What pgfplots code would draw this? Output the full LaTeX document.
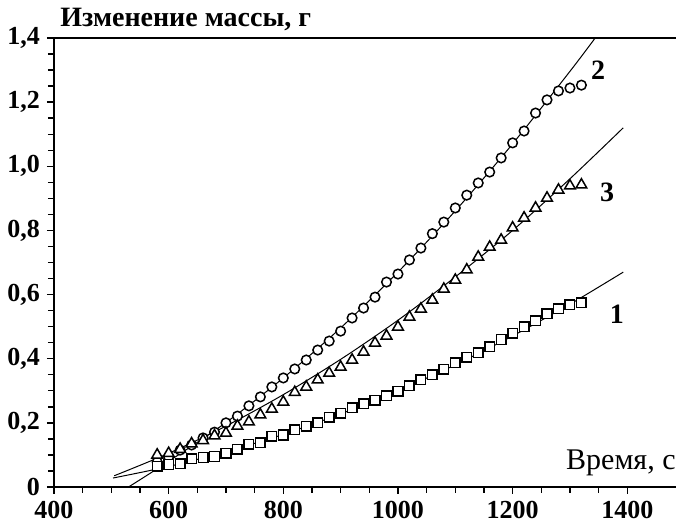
\documentclass[border=0pt]{standalone}
\usepackage{fontspec}
\setmainfont{Liberation Serif}
\usepackage{pgfplots}
\usepackage{pgfplotstable}
\pgfplotsset{compat=1.18}

% curve 2 (circles)
\pgfplotstableread{
x y
580 0.078
600 0.094
620 0.115
640 0.131
660 0.153
680 0.171
700 0.200
720 0.221
740 0.253
760 0.281
780 0.312
800 0.340
820 0.368
840 0.396
860 0.427
880 0.455
900 0.486
920 0.527
940 0.558
960 0.592
980 0.639
1000 0.664
1020 0.708
1040 0.745
1060 0.790
1080 0.826
1100 0.870
1120 0.910
1140 0.948
1160 0.982
1180 1.026
1200 1.073
1220 1.110
1240 1.166
1260 1.207
1280 1.235
1300 1.244
1320 1.253
}\circdata

% curve 3 (triangles)
\pgfplotstableread{
x y
580 0.100
600 0.105
620 0.118
640 0.135
660 0.145
680 0.160
700 0.168
720 0.190
740 0.203
760 0.225
780 0.243
800 0.265
820 0.295
840 0.312
860 0.334
880 0.355
900 0.374
920 0.396
940 0.421
960 0.449
980 0.471
1000 0.499
1020 0.530
1040 0.555
1060 0.583
1080 0.617
1100 0.645
1120 0.677
1140 0.717
1160 0.748
1180 0.770
1200 0.808
1220 0.839
1240 0.870
1260 0.901
1280 0.926
1300 0.939
1320 0.942
}\tridata

% curve 1 (squares)
\pgfplotstableread{
x y
580 0.065
600 0.070
620 0.072
640 0.088
660 0.092
680 0.095
700 0.105
720 0.118
740 0.133
760 0.138
780 0.158
800 0.162
820 0.178
840 0.190
860 0.200
880 0.217
900 0.230
920 0.247
940 0.260
960 0.270
980 0.285
1000 0.298
1020 0.316
1040 0.335
1060 0.350
1080 0.367
1100 0.388
1120 0.405
1140 0.418
1160 0.437
1180 0.460
1200 0.480
1220 0.500
1240 0.518
1260 0.540
1280 0.556
1300 0.568
1320 0.575
}\sqdata

\begin{document}
\begin{tikzpicture}
\useasboundingbox (-27pt,-18.5pt) rectangle (311pt,243.5pt);
\begin{axis}[
  scale only axis,
  width=311pt, height=224.5pt,
  xmin=400, xmax=1485,
  ymin=0, ymax=1.4,
  axis lines*=left,
  axis line style={line width=0.9pt, -},
  xtick={400,600,800,1000,1200,1400},
  xticklabels={400,600,800,1000,1200,1400},
  ytick={0,0.2,0.4,0.6,0.8,1.0,1.2,1.4},
  yticklabels={0,{0,2},{0,4},{0,6},{0,8},{1,0},{1,2},{1,4}},
  minor x tick num=3, minor y tick num=3,
  tick align=outside,
  major tick length=3.5pt, minor tick length=3pt,
  tick style={black, line width=0.7pt},
  ticklabel style={font=\fontsize{13}{15}\selectfont\bfseries},
  clip=false,
]
% fitted curves
\addplot[black, line width=0.5pt, smooth] coordinates {
  (530,0.0) (600,0.080) (700,0.201) (800,0.340) (900,0.496)
  (1000,0.670) (1100,0.861) (1200,1.070) (1300,1.296) (1344,1.400)
};
\addplot[black, line width=0.5pt, smooth] coordinates {
  (505,0.035) (600,0.105) (700,0.190) (800,0.288) (900,0.398)
  (1000,0.520) (1100,0.655) (1200,0.800) (1300,0.961) (1393,1.120)
};
\addplot[black, line width=0.5pt, smooth] coordinates {
  (503,0.028) (600,0.064) (700,0.110) (800,0.164) (900,0.228)
  (1000,0.300) (1100,0.381) (1200,0.471) (1300,0.570) (1393,0.670)
};
% measured points
\addplot[only marks, mark=*, mark size=2.4pt,
  mark options={draw=black, fill=white, line width=0.75pt}] table {\circdata};
\addplot[only marks, mark=triangle*, mark size=3.1pt,
  mark options={draw=black, fill=white, line width=0.75pt}] table {\tridata};
\addplot[only marks, mark=square*, mark size=2.4pt,
  mark options={draw=black, fill=white, line width=0.75pt}] table {\sqdata};

\draw[line width=0.9pt] (rel axis cs:0,1) -- (rel axis cs:1,1);

\node[font=\fontsize{14}{16}\selectfont\bfseries] at (axis cs:1349,1.30) {2};
\node[font=\fontsize{14}{16}\selectfont\bfseries] at (axis cs:1365,0.92) {3};
\node[font=\fontsize{14}{16}\selectfont\bfseries] at (axis cs:1382,0.54) {1};

\node[anchor=base west, inner sep=0pt, font=\fontsize{14}{16}\selectfont\bfseries]
  at ([xshift=3pt, yshift=5.5pt]rel axis cs:0,1) {Изменение массы, г};
\node[anchor=base east, inner sep=0pt, font=\fontsize{15}{17}\selectfont]
  at ([yshift=8.5pt]rel axis cs:1,0) {Время, с};
\end{axis}
\end{tikzpicture}
\end{document}
